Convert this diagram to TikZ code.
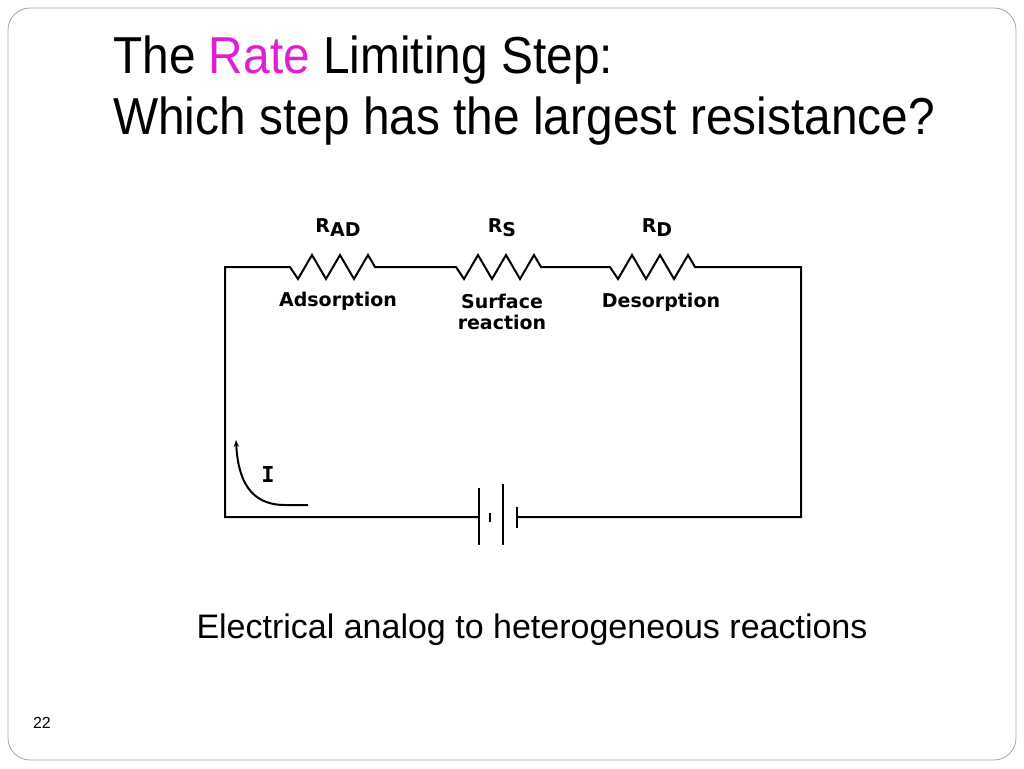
\documentclass[tikz,border=0pt]{standalone}
\usepackage{fontspec}
\setmainfont{Liberation Sans}
\newfontfamily\circfont{DejaVu Sans}
\newfontfamily\ifont{DejaVu Sans Mono}
\newfontfamily\titlefont[FakeStretch=0.92]{Liberation Sans}
\usetikzlibrary{arrows.meta}
\begin{document}
\begin{tikzpicture}[x=1pt,y=-1pt,
  wire/.style={line width=2pt,black},
  lbl/.style={font=\circfont\bfseries\fontsize{19}{21}\selectfont,inner sep=0pt,align=center},
  ttl/.style={font=\titlefont\fontsize{52}{58}\selectfont,anchor=west,inner sep=0pt}]
\useasboundingbox (0,0) rectangle (1024,768);
\draw[gray!70,line width=0.8pt,rounded corners=22pt] (8,8) rectangle (1016,760);
\node[ttl] (t1) at (113,60) {The \textcolor[HTML]{E020D0}{Rate} Limiting Step:};
\node[ttl] (t2) at (113,121) {Which step has the largest resistance?};
\coordinate (tl) at (225,267); \coordinate (tr) at (801,267);
\coordinate (bl) at (225,517); \coordinate (br) at (801,517);
\coordinate (b1) at (479,517); \coordinate (b2) at (517,517);
\draw[wire] (b1) -- (bl) -- (tl) -- (290,267)
  -- ++(8,12) -- ++(14,-24) -- ++(14,24) -- ++(14,-24) -- ++(14,24) -- ++(14,-24) -- ++(7,12)
  -- (456,267)
  -- ++(8,12) -- ++(14,-24) -- ++(14,24) -- ++(14,-24) -- ++(14,24) -- ++(14,-24) -- ++(7,12)
  -- (610,267)
  -- ++(8,12) -- ++(14,-24) -- ++(14,24) -- ++(14,-24) -- ++(14,24) -- ++(14,-24) -- ++(7,12)
  -- (tr) -- (br) -- (b2);
\draw[wire] (479,488) -- (479,545);
\draw[wire] (490,513) -- (490,522);
\draw[wire] (503,484) -- (503,545);
\draw[wire] (517,507) -- (517,528);
\coordinate (ia) at (308,505);
\coordinate (ib) at (236,440);
\draw[line width=2pt,-{Stealth[length=7pt]}] (ia) -- (285,505) .. controls (250,505) and (238,480) .. (ib);
\node[font=\ifont\bfseries\fontsize{22}{24}\selectfont,inner sep=0pt] (i) at (268,474) {I};
\node[lbl] (r1) at (338,228) {R\raisebox{-4pt}{AD}};
\node[lbl] (r2) at (502,228) {R\raisebox{-4pt}{S}};
\node[lbl] (r3) at (657,228) {R\raisebox{-4pt}{D}};
\node[lbl] (l1) at (338,301) {Adsorption};
\node[lbl] (l2) at (502,312) {Surface\\reaction};
\node[lbl] (l3) at (661,302) {Desorption};
\node[font=\fontsize{34}{40}\selectfont,inner sep=0pt] (cap) at (532,630) {Electrical analog to heterogeneous reactions};
\node[font=\fontsize{16}{18}\selectfont,inner sep=0pt] (pg) at (42,723) {22};
\end{tikzpicture}
\end{document}
